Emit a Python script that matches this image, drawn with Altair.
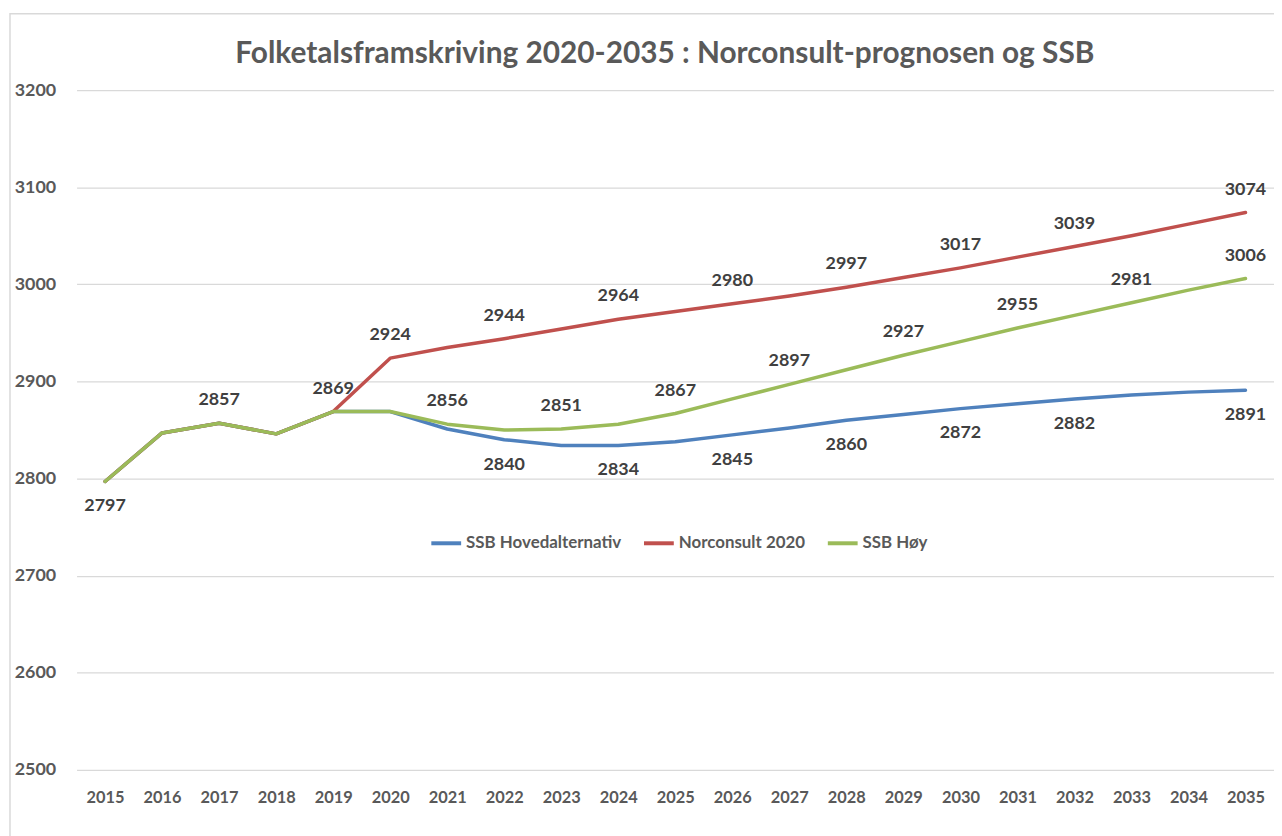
import altair as alt
import pandas as pd

years = list(range(2015, 2036))
ssb_hoved = [2797, 2847, 2857, 2846, 2869, 2869, 2851, 2840, 2834, 2834, 2838,
             2845, 2852, 2860, 2866, 2872, 2877, 2882, 2886, 2889, 2891]
norconsult = [2797, 2847, 2857, 2846, 2869, 2924, 2935, 2944, 2954, 2964, 2972,
              2980, 2988, 2997, 3007, 3017, 3028, 3039, 3050, 3062, 3074]
ssb_hoy = [2797, 2847, 2857, 2846, 2869, 2869, 2856, 2850, 2851, 2856, 2867,
           2882, 2897, 2912, 2927, 2941, 2955, 2968, 2981, 2994, 3006]

series_names = ["SSB Hovedalternativ", "Norconsult 2020", "SSB Høy"]
series_colors = ["#4F81BD", "#C0504D", "#9BBB59"]
title_text = "Folketalsframskriving 2020-2035 : Norconsult-prognosen og SSB"

# which years carry a data label, and whether it sits above or below the line
labels_above = {
    "Norconsult 2020": [2020, 2022, 2024, 2026, 2028, 2030, 2032, 2035],
    "SSB Høy": [2017, 2019, 2021, 2023, 2025, 2027, 2029, 2031, 2033, 2035],
}
labels_below = {
    "SSB Hovedalternativ": [2022, 2024, 2026, 2028, 2030, 2032, 2035],
    "SSB Høy": [2015],
}

rows = []
for name, vals in zip(series_names, [ssb_hoved, norconsult, ssb_hoy]):
    for y, v in zip(years, vals):
        pos = ""
        if y in labels_above.get(name, []):
            pos = "above"
        elif y in labels_below.get(name, []):
            pos = "below"
        rows.append({"Year": str(y), "Value": v, "Serie": name,
                     "order": series_names.index(name), "pos": pos})
df = pd.DataFrame(rows)

year_sort = [str(y) for y in years]
x_enc = alt.X("Year:N", title=None, sort=year_sort,
              scale=alt.Scale(paddingOuter=0.5),
              axis=alt.Axis(labelAngle=0, domain=False, ticks=False, grid=False,
                            labelFontSize=16.5, labelFontWeight="bold",
                            labelColor="#595959", labelPadding=20))
y_enc = alt.Y("Value:Q", title=None,
              scale=alt.Scale(domain=[2500, 3200], nice=False, zero=False),
              axis=alt.Axis(values=[2500, 2600, 2700, 2800, 2900, 3000, 3100, 3200],
                            format="d", domain=False, ticks=False, grid=True,
                            gridColor="#d9d9d9", gridWidth=1.3,
                            labelFontSize=18, labelFontWeight="bold",
                            labelColor="#595959", labelPadding=21))

base = alt.Chart(df)

one = pd.DataFrame({"k": [0]})
frame = alt.Chart(one).mark_rect(
    fill=None, stroke="#d9d9d9", strokeWidth=1.5).encode(
    x=alt.value(-67), x2=alt.value(1260), y=alt.value(-77), y2=alt.value(800))

title = alt.Chart(one).mark_text(
    text=title_text, fontSize=30, fontWeight="bold", color="#595959",
    align="center", baseline="middle").encode(x=alt.value(592), y=alt.value(-36))

lines = base.mark_line(strokeWidth=3.5, strokeCap="round", strokeJoin="round").encode(
    x=x_enc, y=y_enc,
    color=alt.Color("Serie:N", sort=series_names,
                    scale=alt.Scale(domain=series_names, range=series_colors),
                    legend=alt.Legend(title=None, orient="none", direction="horizontal",
                                      legendX=355, legendY=439, symbolType="stroke",
                                      symbolSize=900, symbolStrokeWidth=4,
                                      labelFontSize=17, labelFontWeight="bold",
                                      labelColor="#595959", columnPadding=14,
                                      labelOffset=3, padding=0)),
    order=alt.Order("order:Q"),
)

txt_kw = dict(fontSize=18, fontWeight="bold", color="#404040", align="center",
              baseline="middle")
above = base.transform_filter(alt.datum.pos == "above").mark_text(dy=-23, **txt_kw).encode(
    x=alt.X("Year:N", sort=year_sort), y="Value:Q", text="Value:Q")
below = base.transform_filter(alt.datum.pos == "below").mark_text(dy=25, **txt_kw).encode(
    x=alt.X("Year:N", sort=year_sort), y="Value:Q", text="Value:Q")

chart = alt.layer(frame, title, lines, above, below).properties(
    width=1205, height=684,
    padding={"left": 69, "top": 80, "right": 0, "bottom": 80},
    autosize="none",
).configure(font="Lato").configure_view(stroke=None)

chart.save("out.html", embed_options={"renderer": "svg", "actions": False})
